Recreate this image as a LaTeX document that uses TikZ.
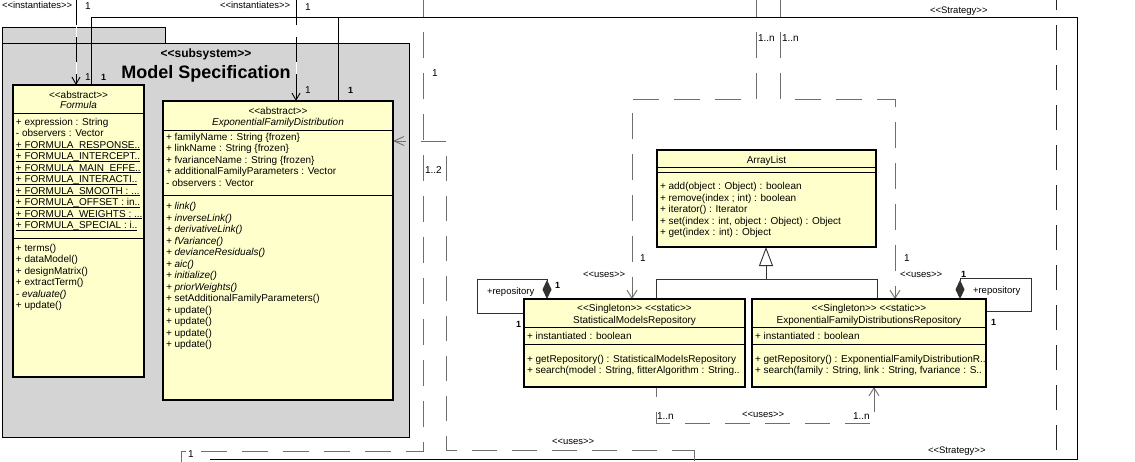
\documentclass[tikz,border=0pt]{standalone}
\usepackage{fontspec}
\setmainfont{Liberation Sans}
\usetikzlibrary{arrows.meta}
\definecolor{boxfill}{RGB}{255,255,204}
\definecolor{pkgfill}{RGB}{212,212,212}
\definecolor{dashgray}{RGB}{110,110,110}
\definecolor{linegray}{RGB}{50,50,50}
\newcommand{\stereo}[1]{<\kern0pt<#1>\kern0pt>}
\newcommand{\undl}[1]{\setbox0\hbox{#1}\rlap{\rule[-1.6pt]{\wd0}{0.6pt}}\box0}
\tikzset{
  every node/.style={inner sep=0pt, outer sep=0pt},
  mem/.style={font=\fontsize{10}{12}\selectfont, anchor=base west},
  hdr/.style={font=\fontsize{10}{12}\selectfont, anchor=base},
  lbl/.style={font=\fontsize{9.5}{11}\selectfont, anchor=base west},
  mult/.style={font=\fontsize{10}{12}\selectfont, anchor=base west},
  bmult/.style={font=\fontsize{9}{11}\selectfont\bfseries, anchor=base west},
  umlbox/.style={draw=black, line width=1.1pt, fill=boxfill, anchor=north west},
  pkgbox/.style={draw=black, line width=1pt, fill=pkgfill, anchor=north west},
  sepline/.style={draw=black, line width=1pt},
  assoc/.style={draw=black, line width=0.9pt},
  thinline/.style={draw=linegray, line width=0.9pt},
  dep/.style={draw=dashgray, line width=0.9pt, dash pattern=on 26pt off 15pt},
  inst/.style={draw=black, line width=0.9pt, dash pattern=on 25pt off 12pt},
  opentip/.style={-{Straight Barb[length=8pt,width=10pt]}},
  smalltip/.style={-{Straight Barb[length=7pt,width=8pt]}},
}
\begin{document}
\begin{tikzpicture}[x=1pt,y=-1pt]
\useasboundingbox (0,0) rectangle (1135,461);
\fill[white] (0,0) rectangle (1135,461);

% ---------- package ----------
\node[pkgbox, minimum width=163pt, minimum height=16pt] (pkgtab) at (2,27) {};
\node[pkgbox, minimum width=407pt, minimum height=394pt] (pkg) at (2,43) {};
\node[font=\fontsize{12}{14}\selectfont\bfseries, anchor=base] (pkgst) at (206,57.5) {\stereo{subsystem}};
\node[font=\fontsize{18}{20}\selectfont\bfseries, anchor=base] (pkgname) at (206,78) {Model Specification};

% ---------- box outlines used as anchors ----------
\path node[umlbox, draw=none, fill=none, minimum width=131pt, minimum height=292pt] (formula) at (13,85) {}
      node[umlbox, draw=none, fill=none, minimum width=230pt, minimum height=299pt] (efd) at (163,101) {}
      node[umlbox, draw=none, fill=none, minimum width=219pt, minimum height=97pt] (alist) at (657,150) {}
      node[umlbox, draw=none, fill=none, minimum width=221pt, minimum height=88pt] (smr) at (524,299) {}
      node[umlbox, draw=none, fill=none, minimum width=234pt, minimum height=88pt] (efdr) at (752,299) {};

% ---------- connectors ----------
% instantiates
\coordinate (i1) at (76,0);
\coordinate (i2) at (296,0);
\draw[white, line width=0.9pt] (i1) -- (i1 |- formula.north);
\draw[inst, smalltip] (i1) -- (i1 |- formula.north);
\draw[white, line width=0.9pt] (i2) -- (i2 |- efd.north);
\draw[inst, smalltip] (i2) -- (i2 |- efd.north);

% solid association round the picture
\coordinate (s1a) at (91,17);
\coordinate (s1b) at (1077,17);
\coordinate (s1c) at (1077,459.5);
\coordinate (s1d) at (210,459.5);
\coordinate (s2) at (338,17);
\draw[assoc] (s1a |- formula.north) -- (s1a) -- (s1b) -- (s1c) -- (s1d);
\draw[assoc] (s2 |- efd.north) -- (s2);

% dashed line x=423
\coordinate (p1a) at (423,0);
\coordinate (p1b) at (423,451);
\coordinate (p1c) at (181.5,451);
\coordinate (p1d) at (181.5,462);
\draw[dep, dash phase=9pt] (p1a) -- (p1b) -- (p1c) -- (p1d);

% dashed line to EFD with arrow
\coordinate (p2a) at (446,141);
\coordinate (p2b) at (446,450);
\coordinate (p2c) at (694,450);
\coordinate (p2d) at (694,461);
\draw[dep, dash pattern=on 25pt off 15pt, dash phase=14pt, {Straight Barb[length=10pt,width=9pt]}-] (efd.east |- p2a) -- (p2a) -- (p2b) -- (p2c) -- (p2d);
\draw[dep, dash pattern=] (p2c) -- (p2d);

% uses lines from the top
\coordinate (u1a) at (756,0);
\coordinate (u1b) at (756,99);
\coordinate (u1c) at (632,99);
\coordinate (u2a) at (780,0);
\coordinate (u2b) at (780,99);
\coordinate (u2c) at (895,99);
\draw[dep, dash phase=9pt, opentip] (u1a) -- (u1b) -- (u1c) -- (u1c |- smr.north);
\draw[dep, dash phase=9pt, opentip] (u2a) -- (u2b) -- (u2c) -- (u2c |- efdr.north);

% uses between the repositories
\coordinate (u3a) at (656,423);
\coordinate (u3b) at (874,423);
\draw[dep, dash pattern=on 25pt off 15pt, dash phase=15pt, opentip] (u3a |- smr.south) -- (u3a) -- (u3b) -- (u3b |- efdr.south);

% strategy dashed line
\coordinate (st1) at (1056,0);
\coordinate (st2) at (1056,461);
\draw[draw=black!85, line width=0.9pt, dash pattern=on 25pt off 15pt, dash phase=15pt] (st1) -- (st2);

% generalisation
\coordinate (g1) at (656,279);
\coordinate (g2) at (877,279);
\coordinate (g3) at (766,279);
\draw[thinline] (g1 |- smr.north) -- (g1) -- (g2) -- (g2 |- efdr.north);
\draw[thinline, -{Triangle[length=19pt,width=14pt,fill=white,line width=0.9pt]}] (g3) -- (g3 |- alist.south);

% self compositions
\coordinate (c1a) at (547,279);
\coordinate (c1b) at (477,279);
\coordinate (c1c) at (477,313);
\draw[thinline, {Diamond[length=19pt,width=9pt]}-] (c1a |- smr.north) -- (c1a) -- (c1b) -- (c1c) -- (c1c -| smr.west);
\coordinate (c2a) at (960,278);
\coordinate (c2b) at (1031,278);
\coordinate (c2c) at (1031,311);
\draw[thinline, {Diamond[length=19pt,width=9pt]}-] (c2a |- efdr.north) -- (c2a) -- (c2b) -- (c2c) -- (c2c -| efdr.east);

% ---------- boxes drawn ----------
\node[umlbox, minimum width=131pt, minimum height=292pt] (formulab) at (13,85) {};
\node[umlbox, minimum width=230pt, minimum height=299pt] (efdb) at (163,101) {};
\node[umlbox, minimum width=219pt, minimum height=97pt] (alistb) at (657,150) {};
\node[umlbox, minimum width=221pt, minimum height=88pt] (smrb) at (524,299) {};
\node[umlbox, minimum width=234pt, minimum height=88pt] (efdrb) at (752,299) {};
\draw[sepline] (13,113) -- (144,113);
\draw[sepline] (13,238) -- (144,238);
\draw[sepline] (163,130) -- (393,130);
\draw[sepline] (163,195) -- (393,195);
\draw[sepline] (657,167) -- (876,167);
\draw[sepline] (657,172) -- (876,172);
\draw[sepline] (524,327) -- (745,327);
\draw[sepline] (524,344) -- (745,344);
\draw[sepline] (752,327) -- (986,327);
\draw[sepline] (752,344) -- (986,344);

% ---------- Formula ----------
\node[hdr] (fh1) at (78.5,98) {\stereo{abstract}};
\node[hdr, font=\fontsize{10}{12}\selectfont\itshape] (fh2) at (78.5,108.5) {Formula};
\foreach \t [count=\i from 0] in {
  {+ expression : String},
  {- observers : Vector},
  {\undl{+ FORMULA\_RESPONSE..}},
  {\undl{+ FORMULA\_INTERCEPT..}},
  {\undl{+ FORMULA\_MAIN\_EFFE..}},
  {\undl{+ FORMULA\_INTERACTI..}},
  {\undl{+ FORMULA\_SMOOTH : ...}},
  {\undl{+ FORMULA\_OFFSET : in..}},
  {\undl{+ FORMULA\_WEIGHTS : ...}},
  {\undl{+ FORMULA\_SPECIAL : i..}}}
  \node[mem] (fa\i) at (16,125+11.5*\i) {\t};
\foreach \t [count=\i from 0] in {
  {+ terms()},{+ dataModel()},{+ designMatrix()},{+ extractTerm()},{\itshape - evaluate()},{+ update()}}
  \node[mem] (fo\i) at (16,251+11.5*\i) {\t};

% ---------- ExponentialFamilyDistribution ----------
\node[hdr] (eh1) at (278,114.5) {\stereo{abstract}};
\node[hdr, font=\fontsize{10}{12}\selectfont\itshape] (eh2) at (278,125) {ExponentialFamilyDistribution};
\foreach \t [count=\i from 0] in {
  {+ familyName : String \{frozen\}},
  {+ linkName : String \{frozen\}},
  {+ fvarianceName : String \{frozen\}},
  {+ additionalFamilyParameters : Vector},
  {- observers : Vector}}
  \node[mem] (ea\i) at (166,140+11.5*\i) {\t};
\foreach \t [count=\i from 0] in {
  {\itshape + link()},{\itshape + inverseLink()},{\itshape + derivativeLink()},
  {\itshape + fVariance()},{\itshape + devianceResiduals()},{\itshape + aic()},
  {\itshape + initialize()},{\itshape + priorWeights()},
  {+ setAdditionalFamilyParameters()},{+ update()},{+ update()},{+ update()},{+ update()}}
  \node[mem] (eo\i) at (166,209.5+11.5*\i) {\t};

% ---------- ArrayList ----------
\node[hdr] (ah) at (766.5,163) {ArrayList};
\foreach \t [count=\i from 0] in {
  {+ add(object : Object) : boolean},
  {+ remove(index ; int) : boolean},
  {+ iterator() : Iterator},
  {+ set(index : int, object : Object) : Object},
  {+ get(index : int) : Object}}
  \node[mem] (ao\i) at (660,189.5+11.5*\i) {\t};

% ---------- StatisticalModelsRepository ----------
\node[hdr] (sh1) at (634.5,311) {\stereo{Singleton} \stereo{static}};
\node[hdr] (sh2) at (634.5,323.5) {StatisticalModelsRepository};
\node[mem] (sa0) at (527,339) {+ instantiated : boolean};
\node[mem] (so0) at (527,362.5) {+ getRepository() : StatisticalModelsRepository};
\node[mem] (so1) at (527,373) {+ search(model : String, fitterAlgorithm : String..};

% ---------- ExponentialFamilyDistributionsRepository ----------
\node[hdr] (rh1) at (869,311) {\stereo{Singleton} \stereo{static}};
\node[hdr] (rh2) at (869,323.5) {ExponentialFamilyDistributionsRepository};
\node[mem] (ra0) at (755,339) {+ instantiated : boolean};
\node[mem] (ro0) at (755,362.5) {+ getRepository() : ExponentialFamilyDistributionR..};
\node[mem] (ro1) at (755,373) {+ search(family : String, link : String, fvariance : S..};

% ---------- labels ----------
\node[lbl] (l1) at (2,8.5) {\stereo{instantiates}};
\node[mult] (l2) at (85,9.5) {1};
\node[lbl] (l3) at (220,8.5) {\stereo{instantiates}};
\node[mult] (l4) at (305,10.5) {1};
\node[mult] (l5) at (85,80.5) {1};
\node[bmult] (l6) at (101,80.5) {1};
\node[mult] (l7) at (305,93.5) {1};
\node[bmult] (l8) at (348,93.5) {1};
\node[mult] (l9) at (432,76) {1};
\node[mult] (l10) at (425,173.5) {1..2};
\node[mult] (l11) at (758,41.5) {1..n};
\node[mult] (l12) at (782,41.5) {1..n};
\node[lbl] (l13) at (930,13) {\stereo{Strategy}};
\node[mult] (l14) at (640,261) {1};
\node[lbl] (l15) at (583,277) {\stereo{uses}};
\node[mult] (l16) at (904,261) {1};
\node[lbl] (l17) at (900,277) {\stereo{uses}};
\node[lbl] (l18) at (487,294) {+repository};
\node[bmult] (l19) at (555,288) {1};
\node[bmult] (l20) at (516,327) {1};
\node[lbl] (l21) at (973,293) {+repository};
\node[bmult] (l22) at (961,277) {1};
\node[bmult] (l23) at (991,325) {1};
\node[mult] (l24) at (657,419) {1..n};
\node[lbl] (l25) at (742,417) {\stereo{uses}};
\node[mult] (l26) at (853,419) {1..n};
\node[lbl] (l27) at (552,444) {\stereo{uses}};
\node[lbl] (l28) at (928,453) {\stereo{Strategy}};
\node[mult] (l29) at (188,457) {1};
\end{tikzpicture}
\end{document}
